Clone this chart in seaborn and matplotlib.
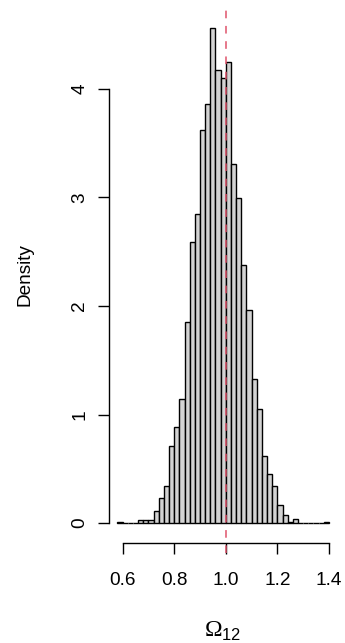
import numpy as np
import pandas as pd
import matplotlib
matplotlib.use("Agg")
import matplotlib.pyplot as plt
import seaborn as sns

sns.set_theme(style="ticks")
plt.rcParams['font.family'] = ['Liberation Sans', 'DejaVu Sans']
plt.rcParams['mathtext.fontset'] = 'custom'
plt.rcParams['mathtext.rm'] = 'Liberation Serif'
plt.rcParams['mathtext.sf'] = 'Liberation Sans'

# histogram breaks and densities
breaks = [0.58, 0.60, 0.62, 0.64, 0.66, 0.68, 0.70, 0.72, 0.74, 0.76, 0.78,
          0.80, 0.82, 0.84, 0.86, 0.88, 0.90, 0.92, 0.94, 0.96, 0.98, 1.00,
          1.02, 1.04, 1.06, 1.08, 1.10, 1.12, 1.14, 1.16, 1.18, 1.20, 1.22,
          1.24, 1.26, 1.28, 1.30, 1.32, 1.34, 1.36, 1.38, 1.40]
density = [0.015, 0.0, 0.0, 0.0, 0.025, 0.025, 0.025, 0.11, 0.234, 0.34,
           0.713, 0.884, 1.139, 1.851, 2.591, 2.843, 3.622, 3.855, 4.561,
           4.168, 4.095, 4.242, 3.303, 2.993, 2.378, 1.961, 1.323, 1.047,
           0.623, 0.45, 0.34, 0.165, 0.074, 0.01, 0.034, 0.0, 0.0, 0.0,
           0.0, 0.0, 0.015]
true_value = 1.0

x_ticks = [0.6, 0.8, 1.0, 1.2, 1.4]
y_ticks = [0, 1, 2, 3, 4]

edges = np.array(breaks)
df = pd.DataFrame({"omega": (edges[:-1] + edges[1:]) / 2, "density": density})

fig = plt.figure(figsize=(3.45, 6.43), dpi=100)
ax = fig.add_axes([109 / 345, 1 - 543 / 643, (337.4 - 109) / 345, 535 / 643])

sns.histplot(data=df, x="omega", weights="density", bins=list(breaks),
             stat="count", color="#D3D3D3", edgecolor="black", linewidth=1.0,
             alpha=1, ax=ax)
ax.axvline(true_value, ymin=-0.018, ymax=1, color="#DF536B", lw=1.1,
           ls=(0, (5, 5)), clip_on=False)

xr = edges[-1] - edges[0]
ax.set_xlim(edges[0] - 0.04 * xr, edges[-1] + 0.04 * xr)
ymax = max(density)
ax.set_ylim(-0.04 * ymax, 1.04 * ymax)

ax.set_xticks(x_ticks)
ax.set_yticks(y_ticks)
ax.set_xlabel("")
ax.set_ylabel("")
for s in ["top", "right"]:
    ax.spines[s].set_visible(False)
ax.spines["left"].set_bounds(y_ticks[0], y_ticks[-1])
ax.spines["bottom"].set_bounds(x_ticks[0], x_ticks[-1])
ax.spines["left"].set_linewidth(1.0)
ax.spines["bottom"].set_linewidth(1.0)
ax.spines["left"].set_color("black")
ax.spines["bottom"].set_color("black")
ax.tick_params(axis="both", length=8, width=1.0, color="black",
               labelsize=13.7, labelcolor="black")
ax.tick_params(axis="x", pad=13)
ax.tick_params(axis="y", pad=7)
plt.setp(ax.get_yticklabels(), rotation=90, va="center")

fig.text(25 / 345, 1 - 275 / 643, "Density", rotation=90, ha="center",
         va="center", fontsize=13.7, color="black")
fig.text(222.5 / 345, 1 - 631 / 643, r"$\Omega_{\mathsf{12}}$", ha="center",
         va="center", fontsize=17, color="black")

fig.savefig("out.png", dpi=100)
